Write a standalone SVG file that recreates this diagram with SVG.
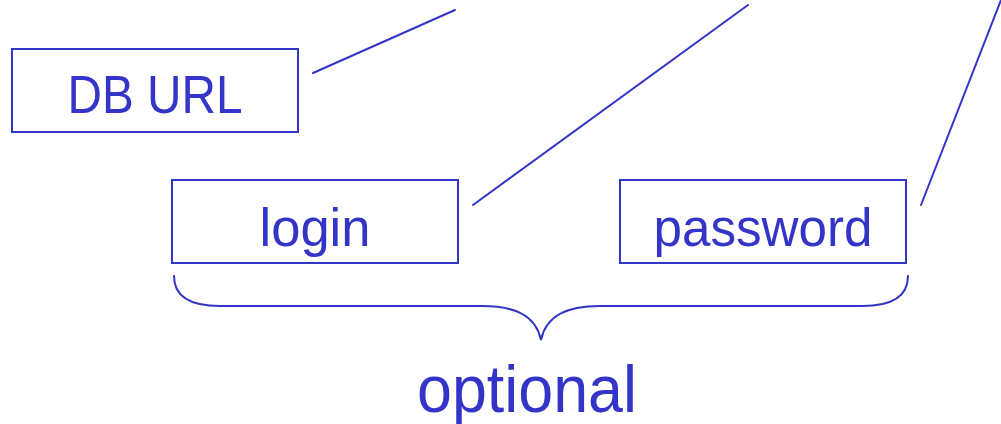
<svg xmlns="http://www.w3.org/2000/svg" width="1001" height="424" viewBox="0 0 1001 424">
  <style>
    .box { fill: #ffffff; stroke: #3434c8; stroke-width: 2; }
    .lbl { font-family: "Liberation Sans", Arial, sans-serif; fill: #3434c8; text-anchor: middle; }
    .wire { fill: none; stroke: #3434c8; stroke-width: 2; stroke-linecap: round; }
  </style>
  <rect width="1001" height="424" fill="#ffffff"/>

  <!-- connectors leading up out of the frame -->
  <g id="connectors">
    <line class="wire" x1="313" y1="73" x2="455" y2="10"/>
    <line class="wire" x1="473" y1="205" x2="748" y2="5"/>
    <line class="wire" x1="921" y1="205" x2="1001" y2="0"/>
    <!-- brace grouping login and password -->
    <path class="wire" d="M174,276 C174,298 192,306 220,306 L482,306 C516,306 536,316 541,340 C546,316 566,306 600,306 L862,306 C890,306 908,298 908,276"/>
  </g>

  <g id="db-url">
    <rect class="box" x="12" y="49" width="286" height="83"/>
    <text class="lbl" x="155" y="113" font-size="53" textLength="175" lengthAdjust="spacingAndGlyphs">DB URL</text>
  </g>

  <g id="login">
    <rect class="box" x="172" y="180" width="286" height="83"/>
    <text class="lbl" x="315" y="246" font-size="53" textLength="111" lengthAdjust="spacingAndGlyphs">login</text>
  </g>

  <g id="password">
    <rect class="box" x="620" y="180" width="286" height="83"/>
    <text class="lbl" x="763" y="246" font-size="53" textLength="219" lengthAdjust="spacingAndGlyphs">password</text>
  </g>

  <g id="optional">
    <text class="lbl" x="527" y="412" font-size="67" textLength="220" lengthAdjust="spacingAndGlyphs">optional</text>
  </g>
</svg>
